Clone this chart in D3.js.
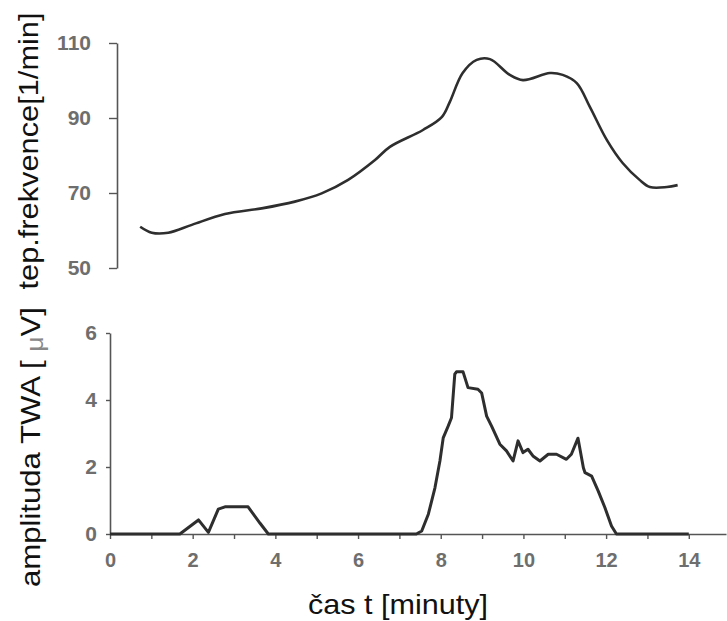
<!DOCTYPE html>
<html>
<head>
<meta charset="utf-8">
<script src="https://cdn.jsdelivr.net/npm/d3@7"></script>
<style>
  html, body { margin: 0; padding: 0; background: #fff; }
  svg { display: block; }
</style>
</head>
<body>
<svg id="chart" width="727" height="621"></svg>
<script>
// ---- data ----
const hrTime = [0.73, 1.01, 1.41, 1.98, 2.78, 3.67, 4.47, 5.12, 5.76, 6.41, 6.77, 7.57, 8.03, 8.22, 8.53, 8.87, 9.19, 9.67, 9.99, 10.64, 10.95, 11.29, 11.61, 12.02, 12.40, 12.81, 13.06, 13.47, 13.73];
const hrValue = [61.0, 59.4, 59.4, 61.5, 64.4, 65.9, 67.7, 69.9, 73.5, 78.8, 82.3, 86.8, 90.3, 94.3, 102.0, 105.5, 105.7, 101.5, 100.1, 102.0, 101.5, 99.3, 92.9, 84.1, 78.0, 73.5, 71.6, 71.6, 72.1];

const twaTime = [0, 1.69, 2.14, 2.38, 2.62, 2.78, 3.34, 3.63, 3.83, 7.41, 7.54, 7.70, 7.86, 7.98, 8.06, 8.18, 8.26, 8.34, 8.38, 8.54, 8.66, 8.90, 8.99, 9.11, 9.23, 9.43, 9.59, 9.75, 9.87, 9.99, 10.11, 10.23, 10.40, 10.60, 10.80, 11.04, 11.16, 11.32, 11.45, 11.49, 11.65, 11.81, 11.97, 12.13, 12.25, 14.0];
const twaValue = [0, 0, 0.42, 0.05, 0.74, 0.81, 0.81, 0.32, 0, 0, 0.09, 0.59, 1.38, 2.18, 2.87, 3.22, 3.47, 4.77, 4.84, 4.84, 4.37, 4.32, 4.21, 3.52, 3.22, 2.68, 2.48, 2.18, 2.78, 2.43, 2.53, 2.33, 2.18, 2.38, 2.38, 2.23, 2.38, 2.86, 1.98, 1.83, 1.73, 1.28, 0.79, 0.24, 0, 0];

const xTickValues = [0, 1, 2, 3, 4, 5, 6, 7, 8, 9, 10, 11, 12, 13, 14];
const hrTicks = [50, 70, 90, 110];
const twaTicks = [0, 2, 4, 6];
const hrTitle = "tep.frekvence[1/min]";
const xTitle = "čas t [minuty]";

// ---- drawing ----
const svg = d3.select("#chart");
const axisColor = "#555";
const labelColor = "#6e6e6e";
const lineColor = "#2e2e2e";

const x = d3.scaleLinear().domain([0, 14.9]).range([110, 726]);
const yTop = d3.scaleLinear().domain([50, 110]).range([268, 43]);
const yBot = d3.scaleLinear().domain([0, 6]).range([534, 333]);

function styleAxis(g, size) {
  g.selectAll("path.domain").attr("stroke", axisColor).attr("stroke-width", 1.6);
  g.selectAll(".tick line").attr("stroke", axisColor).attr("stroke-width", 1.4);
  g.selectAll(".tick text")
    .attr("fill", labelColor)
    .style("font-family", "'Liberation Sans', Arial, sans-serif")
    .style("font-weight", "bold")
    .style("font-size", size + "px");
}

// Top y axis
const gTop = svg.append("g").attr("transform", "translate(117,0)")
  .call(d3.axisLeft(yTop).tickValues(hrTicks).tickSize(8).tickSizeOuter(0).tickPadding(18).tickFormat(d3.format("d")));
styleAxis(gTop, 21);

// Bottom y axis
const gBotY = svg.append("g").attr("transform", "translate(110,0)")
  .call(d3.axisLeft(yBot).tickValues(twaTicks).tickSize(4).tickSizeOuter(0).tickPadding(9).tickFormat(d3.format("d")));
styleAxis(gBotY, 21);

// Bottom x axis
const gX = svg.append("g").attr("transform", `translate(0,${yBot(0)})`)
  .call(d3.axisBottom(x).tickValues(xTickValues).tickSize(5).tickSizeOuter(0).tickPadding(14)
    .tickFormat(d => d % 2 === 0 ? d : ""));
styleAxis(gX, 20);

// Top curve
const hrData = hrTime.map((t, i) => [t, hrValue[i]]);
svg.append("path")
  .datum(hrData)
  .attr("fill", "none")
  .attr("stroke", lineColor)
  .attr("stroke-width", 2.6)
  .attr("stroke-linejoin", "round")
  .attr("d", d3.line().x(d => x(d[0])).y(d => yTop(d[1])).curve(d3.curveCatmullRom.alpha(0.5)));

// Bottom curve
const twaData = twaTime.map((t, i) => [t, twaValue[i]]);
svg.append("path")
  .datum(twaData)
  .attr("fill", "none")
  .attr("stroke", lineColor)
  .attr("stroke-width", 3)
  .attr("stroke-linejoin", "round")
  .attr("d", d3.line().x(d => x(d[0])).y(d => yBot(d[1])));

// Axis titles
svg.append("text")
  .attr("transform", "translate(38,151) rotate(-90)")
  .attr("text-anchor", "middle")
  .attr("fill", "#111")
  .attr("textLength", 277)
  .attr("lengthAdjust", "spacingAndGlyphs")
  .style("font-family", "'Liberation Sans', Arial, sans-serif")
  .style("font-size", "28px")
  .text(hrTitle);

const botTitle = svg.append("text")
  .attr("transform", "translate(40,447) rotate(-90)")
  .attr("text-anchor", "middle")
  .attr("fill", "#111")
  .attr("textLength", 280)
  .attr("lengthAdjust", "spacingAndGlyphs")
  .style("font-family", "'Liberation Sans', Arial, sans-serif")
  .style("font-size", "28px");
botTitle.append("tspan").text("amplituda TWA [ ");
botTitle.append("tspan").attr("fill", "#888").style("font-size", "24px").attr("dy", 3).text("μ");
botTitle.append("tspan").attr("dy", -3).text("V]");

svg.append("text")
  .attr("x", 398)
  .attr("y", 614)
  .attr("text-anchor", "middle")
  .attr("fill", "#111")
  .attr("textLength", 180)
  .attr("lengthAdjust", "spacingAndGlyphs")
  .style("font-family", "'Liberation Sans', Arial, sans-serif")
  .style("font-size", "28px")
  .text(xTitle);
</script>
</body>
</html>
